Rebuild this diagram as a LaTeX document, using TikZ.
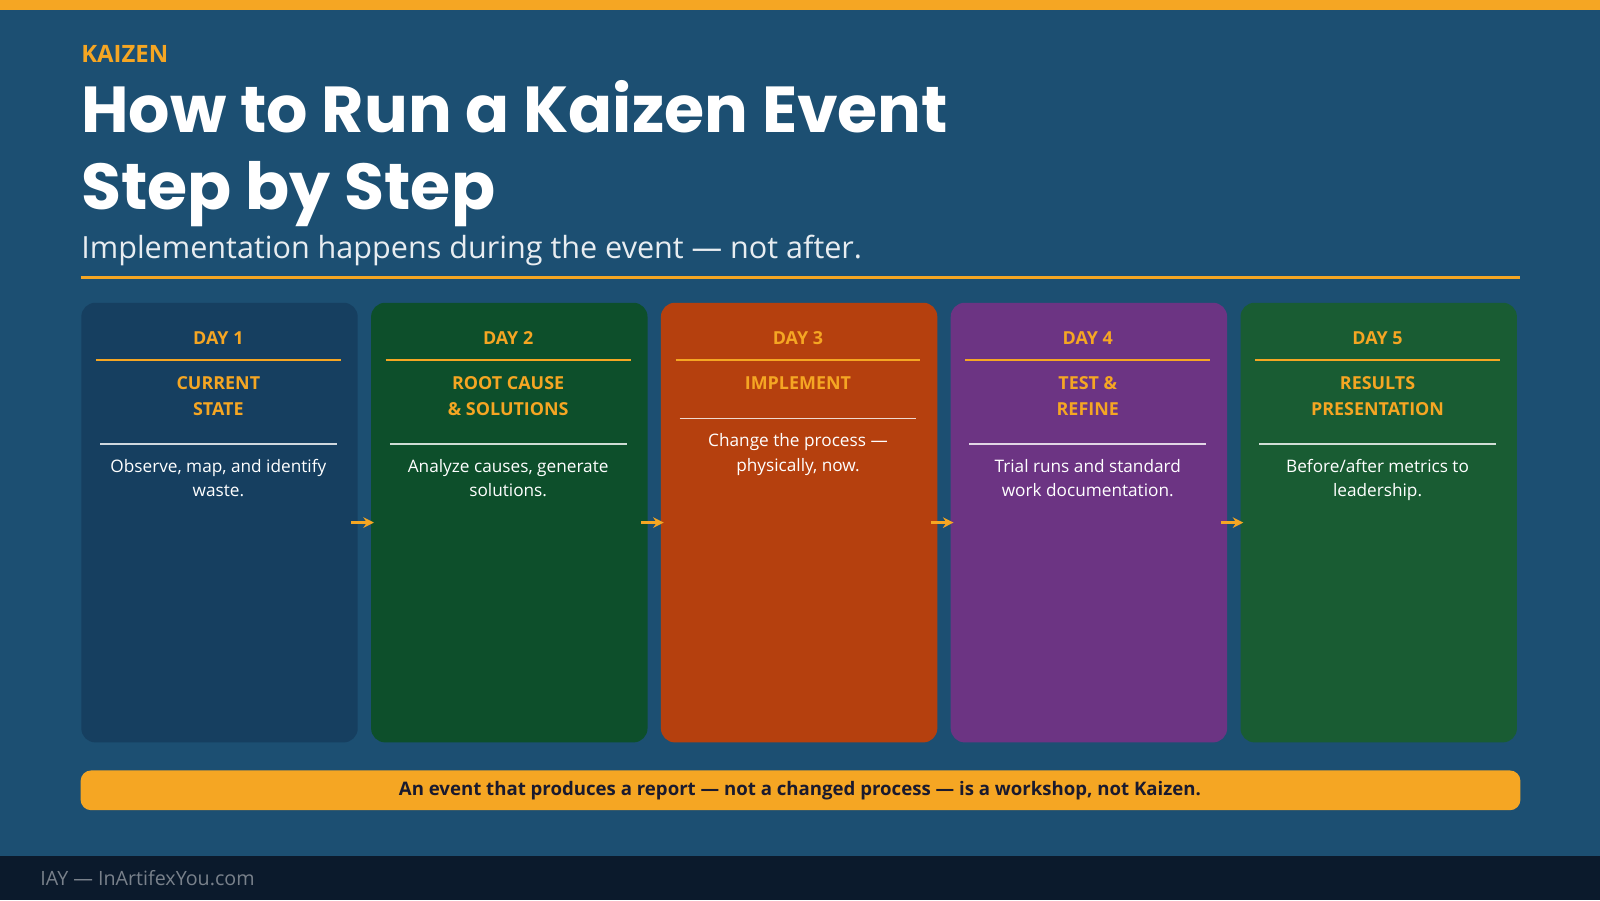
\documentclass[tikz,border=0pt]{standalone}
\usepackage{fontspec}
\setmainfont{Open Sans}
\newfontfamily\titlefont{Poppins}
\usetikzlibrary{positioning,arrows.meta}
\definecolor{bgblue}{HTML}{1C4F72}
\definecolor{accent}{HTML}{F5A623}
\definecolor{footbg}{HTML}{0B1A2C}
\definecolor{cardA}{HTML}{163F60}
\definecolor{cardB}{HTML}{0D4F2B}
\definecolor{cardC}{HTML}{B5400E}
\definecolor{cardD}{HTML}{6C3483}
\definecolor{cardE}{HTML}{195C33}
\definecolor{darktext}{HTML}{1A1A2E}
\tikzset{
	card/.style={fill=#1, rounded corners=4pt, minimum width=2.765cm, minimum height=4.398cm, anchor=north west, inner sep=0pt},
	day/.style={text=accent, font=\fontsize{5.1pt}{6pt}\selectfont\bfseries},
	head/.style={text=accent, font=\fontsize{5.1pt}{7.3pt}\selectfont\bfseries, align=center, anchor=north},
	body/.style={text=white, font=\fontsize{4.9pt}{6.9pt}\selectfont, align=center, anchor=north},
	flowarrow/.style={-{Stealth[length=3pt,width=3pt]}, accent, line width=0.7pt, shorten <=-2pt, shorten >=-1pt}
}
\begin{document}
\begin{tikzpicture}[x=0.010204cm, y=-0.010204cm]
	\useasboundingbox (0,0) rectangle (1568,882);
	\fill[bgblue] (0,0) rectangle (1568,882);
	\fill[accent] (0,0) rectangle (1568,10);
	\fill[footbg] (0,839) rectangle (1568,882);
	
	\node[anchor=west, text=accent, font=\fontsize{6.8pt}{8pt}\selectfont\bfseries, inner sep=0pt] (kicker) at (79,53) {KAIZEN};
	\node[anchor=north west, text=white, font=\titlefont\fontsize{18.5pt}{22pt}\selectfont\bfseries, align=left, inner sep=0pt] (title) at (79,78) {How to Run a Kaizen Event\\Step by Step};
	\node[anchor=west, text=white!90!bgblue, font=\fontsize{8.7pt}{9pt}\selectfont, inner sep=0pt] (sub) at (79,245) {Implementation happens during the event — not after.};
	\draw[accent, line width=0.8pt] (79,272) -- (1490,272);
	
	\foreach \i/\x/\c/\h/\b/\hy in {1/79/cardA/{CURRENT\\STATE}/{Observe, map, and identify\\waste.}/435,
		2/363/cardB/{ROOT CAUSE\\\& SOLUTIONS}/{Analyze causes, generate\\solutions.}/435,
		3/647/cardC/{IMPLEMENT}/{Change the process —\\physically, now.}/410,
		4/931/cardD/{TEST \&\\REFINE}/{Trial runs and standard\\work documentation.}/435,
		5/1215/cardE/{RESULTS\\PRESENTATION}/{Before/after metrics to\\leadership.}/435}{
		\node[card=\c] (card\i) at (\x,296) {};
		\node[day] (day\i) at (\x+135,331) {DAY \i};
		\draw[accent, line width=0.6pt] (\x+15,353) -- (\x+255,353);
		\node[head] (head\i) at (\x+135,357) {\h};
		\draw[white!80!\c, line width=0.4pt] (\x+19,\hy) -- (\x+251,\hy);
		\node[body] (body\i) at (\x+135,\hy+3) {\b};
	}
	\foreach \i [evaluate=\i as \j using int(\i+1)] in {1,...,4}{
		\draw[flowarrow] (card\i.east) -- (card\j.west);
	}
	
	\fill[accent] [rounded corners=3pt] (79,755) rectangle (1490,794);
	\node[text=darktext, font=\fontsize{5.3pt}{6pt}\selectfont\bfseries] (note) at (784,775) {An event that produces a report — not a changed process — is a workshop, not Kaizen.};
	\node[anchor=west, text=white!45!footbg, font=\fontsize{5.6pt}{6pt}\selectfont, inner sep=0pt] (foot) at (39,861) {IAY — InArtifexYou.com};
\end{tikzpicture}
\end{document}
